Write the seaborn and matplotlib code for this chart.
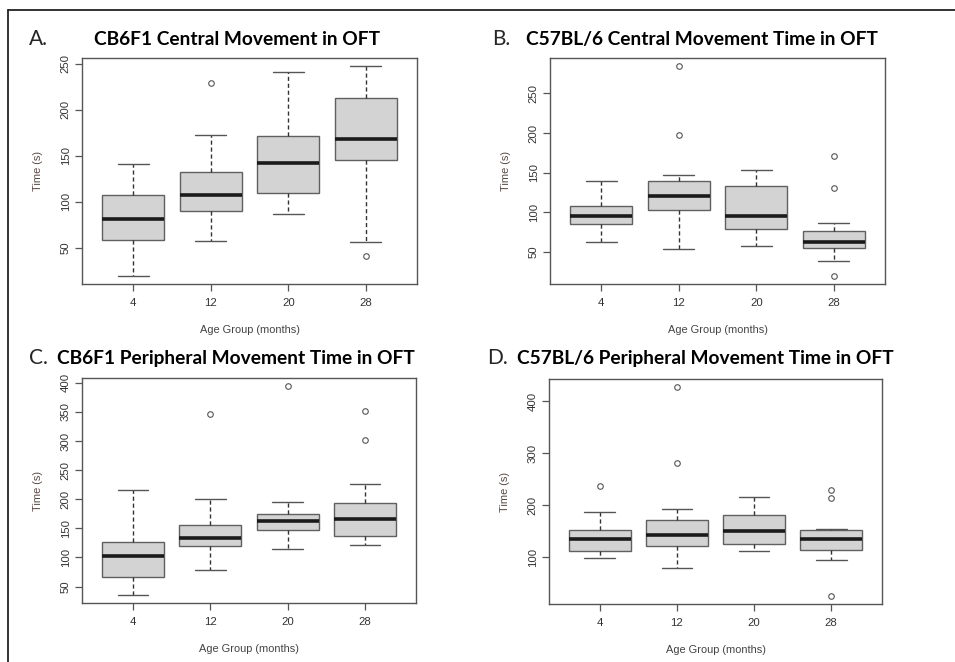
import numpy as np
import pandas as pd
import matplotlib.pyplot as plt
from matplotlib.lines import Line2D
import seaborn as sns

# age groups (months)
ages = ['4', '12', '20', '28']

# five-number summaries per age group: low whisker, Q1, median, Q3, high whisker
cb6f1_central = [[20, 59, 81, 107, 141],
                 [58, 90, 107, 132, 173],
                 [87, 110, 142, 171, 241],
                 [56, 145, 168, 213, 247]]
cb6f1_central_out = {'12': [229], '28': [41]}

c57_central = [[62, 85, 95, 108, 139],
               [53, 103, 120, 140, 147],
               [57, 79, 95, 133, 153],
               [38, 55, 62, 76, 87]]
c57_central_out = {'12': [284, 197], '28': [171, 131, 20]}

cb6f1_periph = [[36, 66, 103, 127, 216],
                [79, 120, 134, 156, 201],
                [114, 147, 163, 174, 195],
                [122, 136, 166, 194, 226]]
cb6f1_periph_out = {'12': [346], '20': [394], '28': [352, 302]}

c57_periph = [[99, 112, 135, 153, 188],
              [80, 121, 143, 171, 192],
              [112, 126, 151, 182, 216],
              [95, 114, 135, 152, 154]]
c57_periph_out = {'4': [238], '12': [427, 281], '28': [230, 214, 26]}

panels = [
    ('A.', 'CB6F1 Central Movement in OFT', cb6f1_central, cb6f1_central_out, [50, 100, 150, 200, 250]),
    ('B.', 'C57BL/6 Central Movement Time in OFT', c57_central, c57_central_out, [50, 100, 150, 200, 250]),
    ('C.', 'CB6F1 Peripheral Movement Time in OFT', cb6f1_periph, cb6f1_periph_out, [50, 100, 150, 200, 250, 300, 350, 400]),
    ('D.', 'C57BL/6 Peripheral Movement Time in OFT', c57_periph, c57_periph_out, [100, 200, 300, 400]),
]

sns.set_style('ticks')
plt.rcParams['font.family'] = ['Liberation Sans', 'DejaVu Sans']

W, H = 955, 662
fig = plt.figure(figsize=(W / 100, H / 100), dpi=100)

# axes boxes in pixels (left, top, right, bottom)
boxes = [(82, 58, 417, 284), (550, 58, 885, 284), (82, 378, 416, 603), (549, 379, 882, 604)]
# panel letter x, title x, baseline y
heads = [(29, 94, 45), (492, 526, 45), (29, 57, 364), (487, 517, 364)]

for (letter, title, summ, outl, yticks), (l, t, r, b), (lx, tx, by) in zip(panels, boxes, heads):
    ax = fig.add_axes([l / W, 1 - b / H, (r - l) / W, (b - t) / H])
    df = pd.DataFrame([(a, v) for a, vals in zip(ages, summ) for v in vals], columns=['age', 'time'])
    out = pd.DataFrame([(a, v) for a, vals in outl.items() for v in vals], columns=['age', 'time'])

    sns.boxplot(data=df, x='age', y='time', order=ages, whis=(0, 100), width=0.8,
                color='#d3d3d3', saturation=1, linecolor='#606060', linewidth=1.0,
                whiskerprops=dict(linestyle=(0, (3, 2)), color='#333333'),
                capprops=dict(color='#555555'),
                medianprops=dict(color='#1a1a1a', linewidth=2.6),
                showfliers=False, ax=ax)
    sns.stripplot(data=out, x='age', y='time', order=ages, jitter=False, size=4.0,
                  color='white', edgecolor='#555555', linewidth=0.8, ax=ax)

    allv = np.concatenate([np.ravel(summ)] + [np.array(v) for v in outl.values()])
    pad = 0.04 * (allv.max() - allv.min())
    ax.set_ylim(allv.min() - pad, allv.max() + pad)
    ax.set_xlim(-0.66, 3.66)
    ax.set_yticks(yticks)
    ax.set_xticks(range(len(ages)))
    ax.set_xticklabels(ages)

    for s in ax.spines.values():
        s.set_visible(True)
        s.set_color('#555555')
        s.set_linewidth(1.0)
    ax.tick_params(axis='both', length=4.7, width=0.9, color='#555555', labelsize=8.2,
                   labelcolor='#333333', direction='out')
    ax.tick_params(axis='x', pad=5.5)
    ax.tick_params(axis='y', pad=3.5)
    for lab in ax.get_yticklabels():
        lab.set_rotation(90)
        lab.set_va('center')

    ax.set_xlabel('Age Group (months)', fontsize=7.9, color='#444444')
    ax.set_ylabel('Time (s)', fontsize=7.9, color='#5a4a44')
    ax.xaxis.set_label_coords(0.5, -46 / (b - t))
    ax.xaxis.label.set_va('center')
    ax.yaxis.set_label_coords(-44 / (r - l), 0.5)
    ax.yaxis.label.set_va('center')

    fig.text(lx / W, 1 - by / H, letter, fontsize=15, family='Lato', va='baseline', ha='left')
    fig.text(tx / W, 1 - by / H, title, fontsize=13.8, family='Lato', fontweight='bold',
             color='black', va='baseline', ha='left')

# outer frame of the composite
fig.add_artist(Line2D([8 / W, 1], [1 - 9.7 / H] * 2, transform=fig.transFigure, color='#222222', lw=1.3))
fig.add_artist(Line2D([8 / W] * 2, [0, 1 - 9.7 / H], transform=fig.transFigure, color='#222222', lw=1.3))

plt.savefig('out.png', dpi=100)
